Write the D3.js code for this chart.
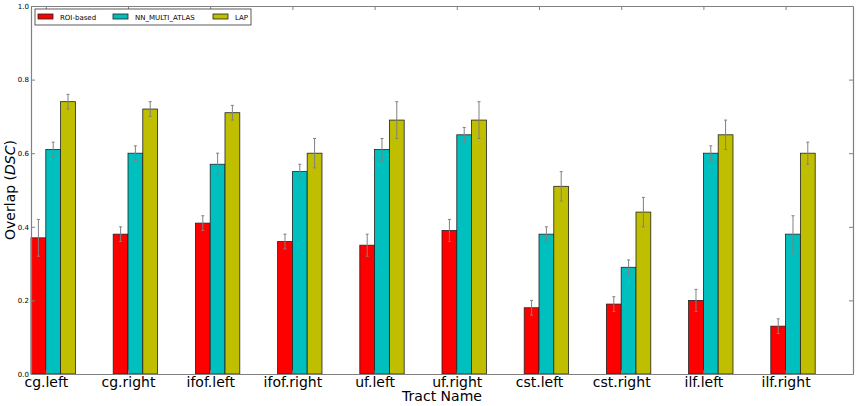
<!DOCTYPE html>
<html>
<head>
<meta charset="utf-8">
<script src="https://cdn.jsdelivr.net/npm/d3@7"></script>
<style>
  body { margin: 0; background: #fff; }
  svg text { font-family: "DejaVu Sans", sans-serif; }
</style>
</head>
<body>
<div id="chart"></div>
<script>
// tract names on the x axis
const tracts = ["cg.left", "cg.right", "ifof.left", "ifof.right", "uf.left", "uf.right", "cst.left", "cst.right", "ilf.left", "ilf.right"];

// mean DSC per method
const roiBased = [0.37, 0.38, 0.41, 0.36, 0.35, 0.39, 0.18, 0.19, 0.20, 0.13];
const roiErr   = [0.05, 0.02, 0.02, 0.02, 0.03, 0.03, 0.02, 0.02, 0.03, 0.02];
const nnMulti  = [0.61, 0.60, 0.57, 0.55, 0.61, 0.65, 0.38, 0.29, 0.60, 0.38];
const nnErr    = [0.02, 0.02, 0.03, 0.02, 0.03, 0.02, 0.02, 0.02, 0.02, 0.05];
const lap      = [0.74, 0.72, 0.71, 0.60, 0.69, 0.69, 0.51, 0.44, 0.65, 0.60];
const lapErr   = [0.02, 0.02, 0.02, 0.04, 0.05, 0.05, 0.04, 0.04, 0.04, 0.03];

const methods = ["ROI-based", "NN_MULTI_ATLAS", "LAP"];
const yTicks = [0.0, 0.2, 0.4, 0.6, 0.8, 1.0];

const series = [
  {name: methods[0], values: roiBased, errs: roiErr, color: "#ff0000"},
  {name: methods[1], values: nnMulti, errs: nnErr, color: "#00bfbf"},
  {name: methods[2], values: lap, errs: lapErr, color: "#bfbf00"}
];

const W = 856, H = 406;
const m = {top: 6, right: 3, bottom: 32, left: 31};
const w = W - m.left - m.right;
const h = H - m.top - m.bottom;
const barW = 0.18;

const svg = d3.select("#chart").append("svg")
  .attr("width", W)
  .attr("height", H);

const g = svg.append("g").attr("transform", "translate(" + m.left + "," + m.top + ")");

// x is in "group units": group i starts at i
const x = d3.scaleLinear().domain([0, tracts.length]).range([0, w]);
const y = d3.scaleLinear().domain([0, 1]).range([h, 0]);

// bars
series.forEach((s, k) => {
  g.selectAll(".bar" + k)
    .data(s.values)
    .enter()
    .append("rect")
    .attr("x", (d, i) => x(i + k * barW))
    .attr("y", d => y(d))
    .attr("width", x(barW) - x(0))
    .attr("height", d => h - y(d))
    .attr("fill", s.color)
    .attr("stroke", "#222")
    .attr("stroke-width", 0.8);
});

// error bars
series.forEach((s, k) => {
  const eb = g.selectAll(".err" + k)
    .data(s.values)
    .enter()
    .append("g")
    .attr("stroke", "#808080")
    .attr("stroke-width", 1);
  const cx = (d, i) => x(i + k * barW + barW / 2);
  eb.append("line")
    .attr("x1", cx).attr("x2", cx)
    .attr("y1", (d, i) => y(d + s.errs[i]))
    .attr("y2", (d, i) => y(d - s.errs[i]));
  eb.append("line")
    .attr("x1", (d, i) => cx(d, i) - 1.5).attr("x2", (d, i) => cx(d, i) + 1.5)
    .attr("y1", (d, i) => y(d + s.errs[i]))
    .attr("y2", (d, i) => y(d + s.errs[i]));
  eb.append("line")
    .attr("x1", (d, i) => cx(d, i) - 1.5).attr("x2", (d, i) => cx(d, i) + 1.5)
    .attr("y1", (d, i) => y(d - s.errs[i]))
    .attr("y2", (d, i) => y(d - s.errs[i]));
});

// axes: ticks point inward on all four sides
const tickPos = tracts.map((t, i) => i + barW);
const xTickFmt = (d, i) => tracts[i];

const xBottom = g.append("g")
  .attr("transform", "translate(0," + h + ")")
  .call(d3.axisBottom(x).tickValues(tickPos).tickFormat(xTickFmt).tickSizeInner(-4).tickSizeOuter(0).tickPadding(3));
xBottom.selectAll("text").attr("font-size", 14).attr("fill", "#000");

const xTop = g.append("g")
  .call(d3.axisTop(x).tickValues(tickPos).tickFormat("").tickSizeInner(-4).tickSizeOuter(0));

const yLeft = g.append("g")
  .call(d3.axisLeft(y).tickValues(yTicks).tickFormat(d3.format(".1f")).tickSizeInner(-4).tickSizeOuter(0).tickPadding(2));
yLeft.selectAll("text").attr("font-size", 7).attr("fill", "#000");

const yRight = g.append("g")
  .attr("transform", "translate(" + w + ",0)")
  .call(d3.axisRight(y).tickValues(yTicks).tickFormat("").tickSizeInner(-4).tickSizeOuter(0));

[xBottom, xTop, yLeft, yRight].forEach(a => {
  a.select(".domain").attr("stroke", "#808080").attr("stroke-width", 1.2);
  a.selectAll(".tick line").attr("stroke", "#808080");
});

// axis titles
svg.append("text")
  .attr("x", m.left + w / 2)
  .attr("y", 401)
  .attr("text-anchor", "middle")
  .attr("font-size", 14)
  .text("Tract Name");

const yl = svg.append("text")
  .attr("transform", "translate(15," + (m.top + h / 2) + ") rotate(-90)")
  .attr("text-anchor", "middle")
  .attr("font-size", 14);
yl.append("tspan").text("Overlap (");
yl.append("tspan").attr("font-style", "italic").text("DSC");
yl.append("tspan").text(")");

// legend
const leg = g.append("g").attr("transform", "translate(4,3)");
leg.append("rect")
  .attr("width", 216).attr("height", 16)
  .attr("fill", "#fff")
  .attr("stroke", "#333")
  .attr("stroke-width", 0.8);
const legX = [3, 78, 178];
series.forEach((s, k) => {
  leg.append("rect")
    .attr("x", legX[k]).attr("y", 5)
    .attr("width", 15).attr("height", 5)
    .attr("fill", s.color)
    .attr("stroke", "#222")
    .attr("stroke-width", 0.8);
  leg.append("text")
    .attr("x", legX[k] + 22).attr("y", 10.5)
    .attr("font-size", 7)
    .text(s.name);
});
</script>
</body>
</html>
